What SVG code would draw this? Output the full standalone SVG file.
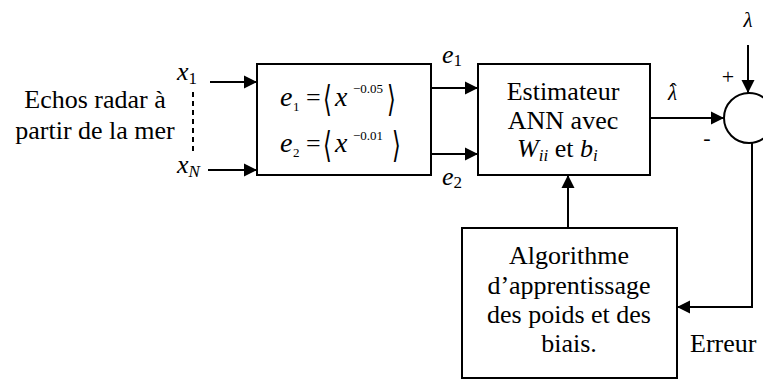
<svg xmlns="http://www.w3.org/2000/svg" width="763" height="380" viewBox="0 0 763 380">
<style>
  text { font-family: "Liberation Serif", "Times New Roman", serif; font-size: 26px; fill: #000; }
  .it { font-style: italic; }
  .sub { font-size: 17px; }
  .sm { font-size: 13px; }
  .eq { font-size: 28px; font-style: italic; }
  .br { font-family: "DejaVu Serif", "DejaVu Sans", serif; font-size: 30px; }
  .sign { font-size: 22px; }
  .lam { font-size: 21px; font-style: italic; }
  .box { fill: #fff; stroke: #000; stroke-width: 2; }
  .ln { fill: none; stroke: #000; stroke-width: 2; }
  .dash { fill: none; stroke: #000; stroke-width: 2; stroke-dasharray: 5 4; }
  .mid { text-anchor: middle; }
</style>
<defs>
  <marker id="ah" markerUnits="userSpaceOnUse" markerWidth="14" markerHeight="14" refX="13" refY="7" orient="auto">
    <path d="M0,0.5 L13,7 L0,13.5 z" fill="#000"/>
  </marker>
</defs>
<rect width="763" height="380" fill="#fff"/>

<g id="source">
  <text x="95" y="108" class="mid">Echos radar à</text>
  <text x="95" y="139" class="mid">partir de la mer</text>
  <text x="177" y="80" class="it">x<tspan class="sub" font-style="normal" dy="4">1</tspan></text>
  <text x="177" y="173" class="it">x<tspan class="sub" dy="4">N</tspan></text>
</g>

<g id="feature-box">
  <rect class="box" x="257" y="64" width="174" height="111"/>
  <text x="280" y="106" class="eq">e</text>
  <text x="293" y="111" class="sm">1</text>
  <text x="306" y="106">=</text>
  <text class="br" transform="translate(323,111) scale(0.75,1.2)">⟨</text>
  <text x="335" y="106" class="eq">x</text>
  <text x="353" y="93" class="sm">−0.05</text>
  <text class="br" transform="translate(387,111) scale(0.75,1.2)">⟩</text>

  <text x="280" y="152" class="eq">e</text>
  <text x="293" y="157" class="sm">2</text>
  <text x="306" y="152">=</text>
  <text class="br" transform="translate(323,157) scale(0.75,1.2)">⟨</text>
  <text x="335" y="152" class="eq">x</text>
  <text x="353" y="140" class="sm">−0.01</text>
  <text class="br" transform="translate(392,157) scale(0.75,1.2)">⟩</text>
</g>

<g id="estimator">
  <rect class="box" x="478" y="64" width="172" height="111"/>
  <text x="563" y="100" class="mid">Estimateur</text>
  <text x="563" y="129" class="mid">ANN avec</text>
  <text x="517" y="157"><tspan class="it">W</tspan><tspan class="sub it" dy="4">ii</tspan><tspan dy="-4"> et </tspan><tspan class="it">b</tspan><tspan class="sub it" dy="4">i</tspan></text>
</g>

<g id="summer">
  <circle class="ln" cx="749" cy="118" r="25"/>
  <text x="748" y="27" class="lam mid">λ</text>
  <text x="728" y="84" class="sign mid">+</text>
  <text x="707" y="145" class="sign mid">-</text>
</g>

<g id="learning">
  <rect class="box" x="462" y="228" width="215" height="150"/>
  <text x="569" y="264" class="mid">Algorithme</text>
  <text x="569" y="294" class="mid">d’apprentissage</text>
  <text x="569" y="323" class="mid">des poids et des</text>
  <text x="569" y="352" class="mid">biais.</text>
</g>

<g id="connectors">
  <line class="ln" x1="210" y1="82" x2="257" y2="82" marker-end="url(#ah)"/>
  <line class="ln" x1="208" y1="170" x2="257" y2="170" marker-end="url(#ah)"/>
  <line class="dash" x1="193" y1="92" x2="193" y2="152"/>
  <line class="ln" x1="431" y1="88" x2="478" y2="88" marker-end="url(#ah)"/>
  <line class="ln" x1="431" y1="154" x2="478" y2="154" marker-end="url(#ah)"/>
  <text x="442" y="63" class="it">e<tspan class="sub" font-style="normal" dy="3">1</tspan></text>
  <text x="442" y="185" class="it">e<tspan class="sub" font-style="normal" dy="3">2</tspan></text>
  <line class="ln" x1="650" y1="118" x2="724" y2="118" marker-end="url(#ah)"/>
  <text x="668" y="100" class="lam">λ<tspan x="670" y="98" font-style="normal" font-size="20px">ˆ</tspan></text>
  <line class="ln" x1="748" y1="45" x2="748" y2="93" marker-end="url(#ah)"/>
  <line class="ln" x1="568" y1="228" x2="568" y2="175" marker-end="url(#ah)"/>
  <polyline class="ln" points="752,143 752,307 677,307" marker-end="url(#ah)"/>
  <text x="690" y="352">Erreur</text>
</g>
</svg>
